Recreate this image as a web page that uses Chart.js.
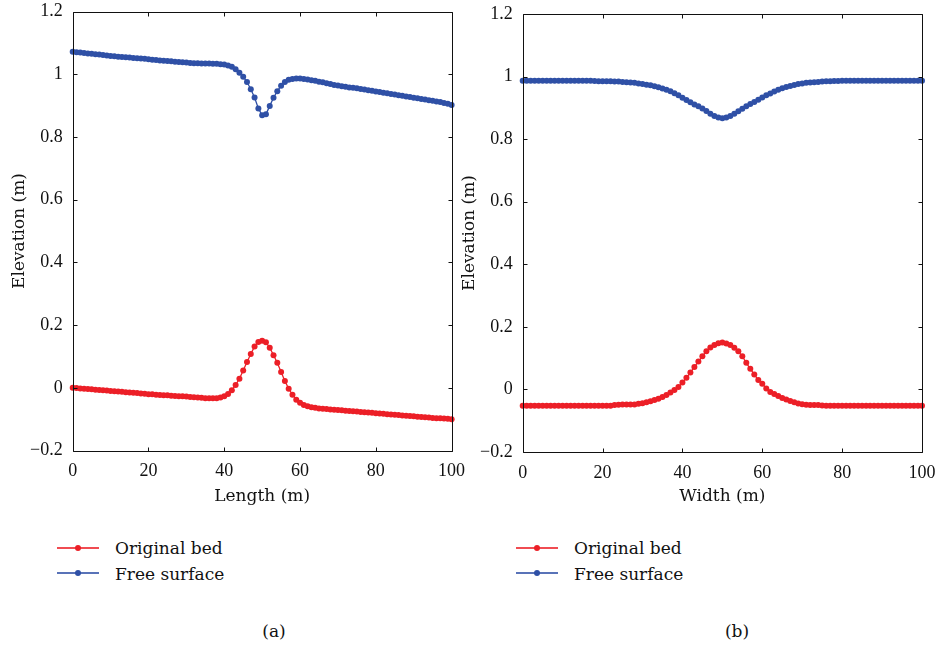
<!DOCTYPE html>
<html>
<head>
<meta charset="utf-8">
<script src="https://cdn.jsdelivr.net/npm/chart.js@4/dist/chart.umd.min.js"></script>
<style>
  html, body { margin: 0; padding: 0; background: #fff; }
  body { width: 940px; height: 650px; position: relative; overflow: hidden; font-family: "DejaVu Serif", serif; color: #111; }
  canvas { position: absolute; top: 0; }
  #cA { left: 0; }
  #cB { left: 450px; }
  .leg { position: absolute; font-size: 17px; line-height: 20px; white-space: nowrap; }
  .legline { position: absolute; height: 2px; width: 42px; }
  .legdot { position: absolute; width: 6px; height: 6px; border-radius: 3px; }
  .cap { position: absolute; font-size: 17px; line-height: 20px; width: 60px; text-align: center; }
</style>
</head>
<body>
<canvas id="cA" width="470" height="520"></canvas>
<canvas id="cB" width="490" height="520"></canvas>
<div id="legends"></div>
<div class="cap" style="left:244px; top:621px;">(a)</div>
<div class="cap" style="left:707px; top:621px;">(b)</div>
<script>
// ---------- data ----------
const xs = Array.from({length: 101}, (_, i) => i); // stations 0..100 m, step 1

const bedLength = [
  0.000,-0.001,-0.002,-0.003,-0.004,-0.005,-0.006,-0.007,-0.008,-0.009,
  -0.010,-0.011,-0.012,-0.013,-0.014,-0.015,-0.016,-0.017,-0.018,-0.019,
  -0.021,-0.021,-0.022,-0.023,-0.024,-0.024,-0.025,-0.026,-0.027,-0.027,
  -0.028,-0.029,-0.030,-0.031,-0.032,-0.033,-0.033,-0.033,-0.033,-0.031,
  -0.027,-0.020,-0.008,0.009,0.029,0.055,0.082,0.108,0.132,0.146,
  0.150,0.145,0.128,0.104,0.080,0.050,0.022,-0.003,-0.022,-0.038,
  -0.048,-0.055,-0.059,-0.062,-0.064,-0.066,-0.067,-0.068,-0.069,-0.070,
  -0.071,-0.072,-0.073,-0.074,-0.075,-0.076,-0.077,-0.078,-0.079,-0.080,
  -0.081,-0.082,-0.083,-0.084,-0.085,-0.086,-0.087,-0.088,-0.089,-0.090,
  -0.091,-0.092,-0.093,-0.094,-0.095,-0.096,-0.097,-0.097,-0.098,-0.099,
  -0.100
];
const surfLength = [
  1.072,1.070,1.069,1.068,1.066,1.065,1.064,1.063,1.061,1.060,
  1.058,1.057,1.056,1.055,1.054,1.053,1.052,1.051,1.050,1.049,
  1.048,1.046,1.045,1.044,1.043,1.042,1.041,1.040,1.039,1.038,
  1.037,1.036,1.035,1.035,1.034,1.034,1.034,1.033,1.033,1.032,
  1.031,1.028,1.024,1.016,1.005,0.992,0.975,0.952,0.926,0.891,
  0.869,0.872,0.899,0.925,0.946,0.963,0.975,0.982,0.985,0.986,
  0.986,0.985,0.983,0.981,0.979,0.976,0.974,0.971,0.969,0.966,
  0.964,0.962,0.960,0.958,0.957,0.955,0.953,0.951,0.949,0.947,
  0.945,0.943,0.941,0.939,0.937,0.935,0.933,0.931,0.929,0.927,
  0.925,0.923,0.921,0.919,0.917,0.915,0.913,0.911,0.908,0.906,
  0.902
];
const bedWidth = [
  -0.052,-0.052,-0.052,-0.052,-0.052,-0.052,-0.052,-0.052,-0.052,-0.052,
  -0.052,-0.052,-0.052,-0.052,-0.052,-0.052,-0.052,-0.052,-0.052,-0.052,
  -0.052,-0.052,-0.052,-0.050,-0.049,-0.048,-0.048,-0.048,-0.048,-0.046,
  -0.044,-0.041,-0.038,-0.034,-0.030,-0.024,-0.018,-0.010,-0.002,0.008,
  0.022,0.037,0.054,0.072,0.089,0.106,0.122,0.134,0.142,0.148,
  0.150,0.147,0.142,0.133,0.122,0.106,0.085,0.066,0.048,0.030,
  0.018,0.003,-0.008,-0.015,-0.021,-0.027,-0.032,-0.037,-0.041,-0.045,
  -0.047,-0.049,-0.050,-0.050,-0.050,-0.051,-0.052,-0.052,-0.052,-0.052,
  -0.052,-0.052,-0.052,-0.052,-0.052,-0.052,-0.052,-0.052,-0.052,-0.052,
  -0.052,-0.052,-0.052,-0.052,-0.052,-0.052,-0.052,-0.052,-0.052,-0.052,
  -0.052
];
const surfWidth = [
  0.987,0.987,0.987,0.987,0.987,0.987,0.987,0.987,0.987,0.987,
  0.987,0.987,0.987,0.987,0.987,0.987,0.987,0.987,0.986,0.985,
  0.985,0.985,0.985,0.984,0.984,0.983,0.982,0.981,0.980,0.978,
  0.976,0.974,0.972,0.969,0.966,0.962,0.958,0.953,0.947,0.940,
  0.932,0.925,0.918,0.911,0.905,0.898,0.890,0.881,0.874,0.869,
  0.867,0.869,0.874,0.881,0.889,0.897,0.905,0.912,0.919,0.926,
  0.933,0.940,0.946,0.952,0.958,0.963,0.967,0.970,0.973,0.976,
  0.978,0.980,0.981,0.982,0.983,0.984,0.985,0.985,0.986,0.986,
  0.987,0.987,0.987,0.987,0.987,0.987,0.987,0.987,0.987,0.987,
  0.987,0.987,0.987,0.987,0.987,0.987,0.987,0.987,0.987,0.987,
  0.987
];
const seriesNames = ['Original bed', 'Free surface'];
const yTickLabels = ['\u22120.2', '0', '0.2', '0.4', '0.6', '0.8', '1', '1.2'];
const xTickLabels = ['0', '20', '40', '60', '80', '100'];
const xTitles = ['Length (m)', 'Width (m)'];
const yTitle = 'Elevation (m)';

// ---------- styling ----------
const RED = '#ec1f27';
const BLUE = '#2f50a6';
const tickFont = { family: '"Liberation Serif", serif', size: 18 };
const titleFont = { family: '"DejaVu Serif", serif', size: 17 };

const framePlugin = {
  id: 'frame',
  afterDraw(chart) {
    const { ctx, chartArea: a, scales } = chart;
    ctx.save();
    ctx.strokeStyle = '#111';
    ctx.lineWidth = 1;
    ctx.beginPath();
    const L = Math.round(a.left) + 0.5, R = Math.round(a.right) + 0.5;
    const T = Math.round(a.top) + 0.5, B = Math.round(a.bottom) + 0.5;
    ctx.rect(L, T, R - L, B - T);
    const len = 4;
    scales.x.ticks.forEach((t, i) => {
      const p = Math.round(scales.x.getPixelForTick(i)) + 0.5;
      ctx.moveTo(p, B); ctx.lineTo(p, B - len);
      ctx.moveTo(p, T); ctx.lineTo(p, T + len);
    });
    scales.y.ticks.forEach((t, i) => {
      const p = Math.round(scales.y.getPixelForTick(i)) + 0.5;
      ctx.moveTo(L, p); ctx.lineTo(L + len, p);
      ctx.moveTo(R, p); ctx.lineTo(R - len, p);
    });
    ctx.stroke();
    ctx.restore();
  }
};

function makeChart(id, bed, surf, xTitle, pad, yWidth, xHeight) {
  const mk = (arr) => xs.map((x, i) => ({ x: x, y: arr[i] }));
  const ds = (label, arr, color) => ({
    label, data: mk(arr),
    borderColor: color, backgroundColor: color,
    borderWidth: 1.3, pointRadius: 3, pointBorderWidth: 0,
    pointBackgroundColor: color, tension: 0, clip: false
  });
  return new Chart(document.getElementById(id), {
    type: 'line',
    data: { datasets: [ds(seriesNames[0], bed, RED), ds(seriesNames[1], surf, BLUE)] },
    options: {
      responsive: false, animation: false, devicePixelRatio: 1,
      layout: { padding: pad },
      plugins: { legend: { display: false }, tooltip: { enabled: false } },
      scales: {
        x: {
          type: 'linear', min: 0, max: 100,
          ticks: { stepSize: 20, color: '#111', font: tickFont, padding: 10, maxRotation: 0,
                   callback: (v, i) => xTickLabels[i] },
          grid: { display: false, drawTicks: false },
          border: { display: false },
          title: { display: true, text: xTitle, color: '#111', font: titleFont, padding: { top: 0, bottom: 13 } },
          afterFit(s) { s.height = xHeight; s.paddingLeft = 0; s.paddingRight = 0; }
        },
        y: {
          type: 'linear', min: -0.2, max: 1.2,
          ticks: { stepSize: 0.2, color: '#111', font: tickFont, padding: 10,
                   callback: (v, i) => yTickLabels[i] },
          grid: { display: false, drawTicks: false },
          border: { display: false },
          title: { display: true, text: yTitle, color: '#111', font: titleFont, padding: { top: 9, bottom: 0 } },
          afterFit(s) { s.width = yWidth; s.paddingTop = 0; s.paddingBottom = 0; }
        }
      }
    },
    plugins: [framePlugin]
  });
}

const chartA = makeChart('cA', bedLength, surfLength, xTitles[0],
  { left: 0, top: 11.5, right: 18.4, bottom: 0 }, 72.7, 69.5);
const chartB = makeChart('cB', bedWidth, surfWidth, xTitles[1],
  { left: 0, top: 14, right: 18, bottom: 0 }, 72.7, 68);

// ---------- legends (HTML, generated from the datasets) ----------
function buildLegend(chart, lineLeft, textLeft) {
  const host = document.getElementById('legends');
  const rows = [{ lineY: 547.5, textTop: 537.5 }, { lineY: 573, textTop: 563.5 }];
  chart.data.datasets.forEach((d, i) => {
    const r = rows[i];
    const line = document.createElement('div');
    line.className = 'legline';
    line.style.left = lineLeft + 'px';
    line.style.top = (r.lineY - 1) + 'px';
    line.style.background = d.borderColor;
    line.style.opacity = '0.8';
    host.appendChild(line);
    const dot = document.createElement('div');
    dot.className = 'legdot';
    dot.style.left = (lineLeft + 18) + 'px';
    dot.style.top = (r.lineY - 3) + 'px';
    dot.style.background = d.borderColor;
    host.appendChild(dot);
    const t = document.createElement('div');
    t.className = 'leg';
    t.style.left = textLeft + 'px';
    t.style.top = r.textTop + 'px';
    t.textContent = d.label;
    host.appendChild(t);
  });
}
buildLegend(chartA, 57, 115);
buildLegend(chartB, 516, 574);
</script>
</body>
</html>
